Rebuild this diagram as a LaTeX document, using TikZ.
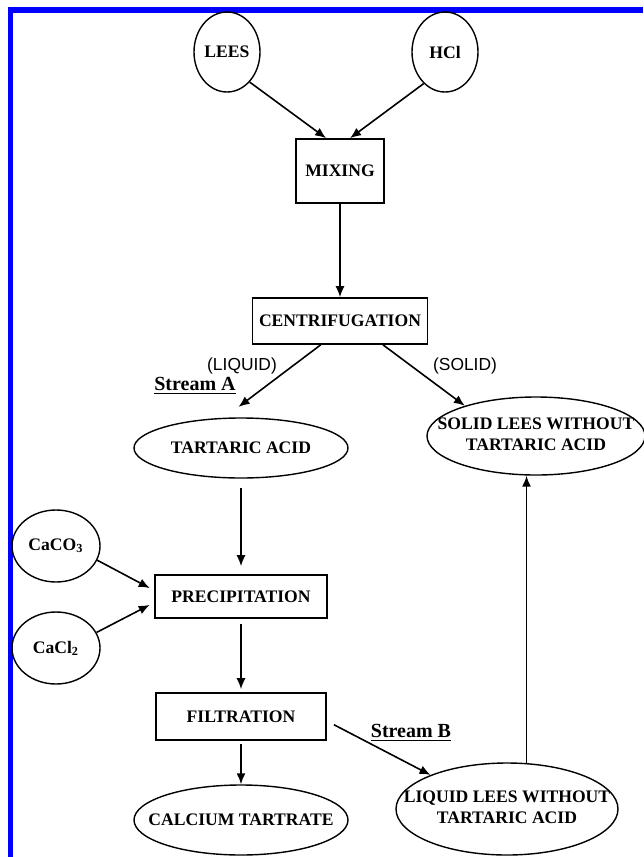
\documentclass[tikz,border=0pt]{standalone}
\usepackage{fontspec}
\setmainfont{Liberation Serif}
\newfontfamily\labelsans{Liberation Sans}
\usetikzlibrary{shapes.geometric, arrows.meta}
\newcommand{\zw}[1]{\makebox[0pt]{#1}}
\newcommand{\twolines}[2]{\makebox[0pt]{\begin{tabular}{@{}c@{}}#1\\#2\end{tabular}}}

\begin{document}
\begin{tikzpicture}[x=0.5pt, y=-0.5pt, line width=0.8pt, >={Latex[length=5.5pt,width=4.5pt]},
  proc/.style={draw, rectangle, inner sep=0pt, font=\fontsize{8.8}{10.5}\selectfont\bfseries},
  feed/.style={draw, ellipse, inner sep=0pt, line width=0.7pt, font=\fontsize{8.8}{10.5}\selectfont\bfseries},
  phase/.style={font=\labelsans\fontsize{8.7}{10}\selectfont},
  stream/.style={font=\fontsize{10}{12}\selectfont\bfseries}]
  \useasboundingbox (0,0) rectangle (643,857);
  % frame
  \draw[blue, line width=2.8pt] (10.5,857) -- (10.5,10) -- (643,10);

  \node[feed, minimum width=33pt, minimum height=40pt] (lees) at (227,52) {\zw{LEES}};
  \node[feed, minimum width=33pt, minimum height=40pt] (hcl) at (445,52) {\zw{HCl}};
  \node[proc, minimum width=44pt, minimum height=32pt] (mix) at (340,171) {MIXING};
  \node[proc, minimum width=87.5pt, minimum height=23pt] (centri) at (340,321) {CENTRIFUGATION};
  \node[feed, minimum width=107pt, minimum height=30pt] (tart) at (241,448) {\zw{TARTARIC ACID}};
  \node[feed, minimum width=109pt, minimum height=39pt] (solid) at (536,436) {\twolines{SOLID LEES WITHOUT}{TARTARIC ACID}};
  \node[feed, minimum width=44pt, minimum height=36pt] (caco) at (56,546) {\zw{CaCO\textsubscript{3}}};
  \node[feed, minimum width=44pt, minimum height=36pt] (cacl) at (56,648) {\zw{CaCl\textsubscript{2}}};
  \node[proc, minimum width=86pt, minimum height=21.5pt] (precip) at (241,596.5) {PRECIPITATION};
  \node[proc, minimum width=85pt, minimum height=23.5pt] (filt) at (241,716.5) {FILTRATION};
  \node[feed, minimum width=107pt, minimum height=35pt] (calc) at (241,820) {\zw{CALCIUM TARTRATE}};
  \node[feed, minimum width=111pt, minimum height=46pt] (liquid) at (507,809) {\twolines{LIQUID LEES WITHOUT}{TARTARIC ACID}};

  % stream labels
  \node[phase] (liq) at (242,366) {(LIQUID)};
  \node[phase] (sol) at (465,366) {(SOLID)};
  \node[stream] (sa) at (195,386) {\underline{Stream A}};
  \node[stream] (sb) at (411,733) {\underline{Stream B}};

  \path[->]
  (lees.-53) edge (mix.113)
  (hcl.236) edge (mix.73)
  (mix) edge (centri)
  (centri.231) edge[shorten >=9pt] (tart.119)
  (centri.-29) edge (solid.157)
  (tart) edge[shorten <=4.5pt, shorten >=4pt] (precip)
  (caco.-19) edge[shorten >=2.5pt] (precip.176)
  (cacl.21) edge[shorten >=2.5pt] (precip.184)
  (precip) edge[shorten <=2.5pt, shorten >=1.5pt] (filt)
  (filt) edge[shorten <=1.5pt] (calc)
  (filt.-3) edge[shorten <=4pt] (liquid.156)
  (liquid.67) edge (liquid.67 |- solid.south);
\end{tikzpicture}
\end{document}
